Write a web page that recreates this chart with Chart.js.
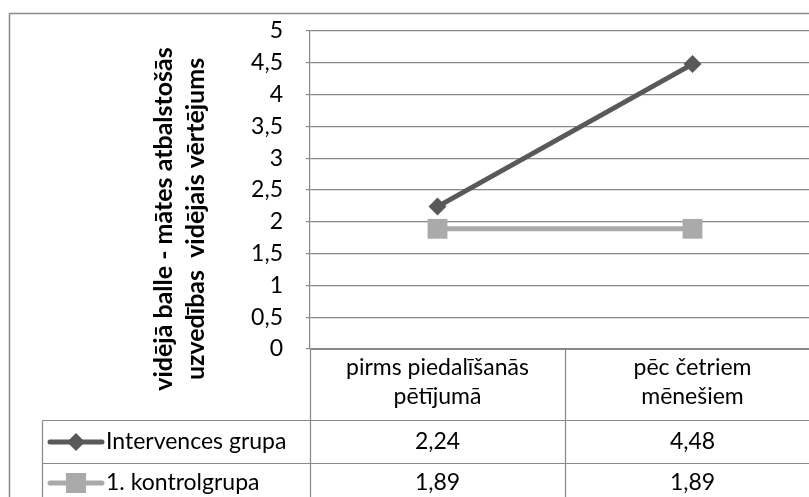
<!DOCTYPE html>
<html>
<head>
<meta charset="utf-8">
<script src="https://cdn.jsdelivr.net/npm/chart.js@4.4.1/dist/chart.umd.min.js"></script>
<style>
  html, body { margin: 0; padding: 0; overflow: hidden; background: #fff; }
  #wrap { position: relative; width: 840px; height: 497px; }
</style>
</head>
<body>
<div id="wrap"><canvas id="grafiks" width="840" height="497"></canvas></div>
<script>
const kategorijas = [["pirms piedalīšanās", "pētījumā"], ["pēc četriem", "mēnešiem"]];
const intervences = [2.24, 4.48];
const kontrole = [1.89, 1.89];
const serijas = ["Intervences grupa", "1. kontrolgrupa"];
const asuNosaukums = ["vidējā balle - mātes atbalstošās", "uzvedības  vidējais vērtējums"];

const fonts = "Lato, 'Open Sans', sans-serif";
const lineGray = "#898989";
const krasas = ["#595959", "#aaaaaa"];

const komats = (v) => String(v).replace(".", ",");

// marķieris leģendas atslēgai tabulā
function marker(ctx, type, x, y, color) {
  ctx.fillStyle = color;
  ctx.beginPath();
  if (type === "rectRot") {
    ctx.moveTo(x - 9, y);
    ctx.lineTo(x, y - 9);
    ctx.lineTo(x + 9, y);
    ctx.lineTo(x, y + 9);
  } else {
    ctx.rect(x - 10, y - 10, 20, 20);
  }
  ctx.closePath();
  ctx.fill();
}

const datuTabula = {
  id: "datuTabula",
  afterDraw(chart) {
    const ctx = chart.ctx;
    const area = chart.chartArea;
    const xs = chart.scales.x;
    const c0 = xs.getPixelForValue(0);
    const c1 = xs.getPixelForValue(1);
    const mid = Math.round((c0 + c1) / 2) + 0.5;
    const left = Math.round(area.left) + 0.5;
    const keyLeft = 42.5;
    const row0 = 420.5, row1 = 463.5;
    ctx.save();

    // ārējais rāmis
    ctx.strokeStyle = lineGray;
    ctx.lineWidth = 1.5;
    ctx.strokeRect(9.5, 13.5, 900, 600);

    // tabulas līnijas
    ctx.lineWidth = 1.2;
    ctx.beginPath();
    ctx.moveTo(left, Math.round(area.bottom) + 0.5);
    ctx.lineTo(chart.width, Math.round(area.bottom) + 0.5);
    ctx.moveTo(keyLeft, row0); ctx.lineTo(chart.width, row0);
    ctx.moveTo(keyLeft, row1); ctx.lineTo(chart.width, row1);
    ctx.moveTo(keyLeft, row0); ctx.lineTo(keyLeft, chart.height);
    ctx.moveTo(left, area.bottom); ctx.lineTo(left, chart.height);
    ctx.moveTo(mid, area.bottom); ctx.lineTo(mid, chart.height);
    ctx.stroke();

    ctx.fillStyle = "#000";
    ctx.font = "23px " + fonts;
    ctx.textAlign = "center";
    ctx.textBaseline = "middle";
    kategorijas.forEach((lbl, i) => {
      const x = xs.getPixelForValue(i);
      ctx.fillText(lbl[0], x, 368);
      ctx.fillText(lbl[1], x, 397);
    });

    const rindas = [intervences, kontrole];
    const formas = ["rectRot", "rect"];
    const ys = [442, 483];
    rindas.forEach((vals, r) => {
      const y = ys[r];
      ctx.strokeStyle = krasas[r];
      ctx.lineWidth = 5;
      ctx.lineCap = "round";
      ctx.beginPath();
      ctx.moveTo(50, y);
      ctx.lineTo(102, y);
      ctx.stroke();
      marker(ctx, formas[r], 76, y, krasas[r]);
      ctx.fillStyle = "#000";
      ctx.textAlign = "left";
      ctx.fillText(serijas[r], 106, y);
      ctx.textAlign = "center";
      vals.forEach((v, i) => ctx.fillText(komats(v), xs.getPixelForValue(i), y));
    });

    // vertikālās ass nosaukums
    ctx.font = "bold 25px " + fonts;
    ctx.translate(0, 219);
    ctx.rotate(-Math.PI / 2);
    ctx.fillText(asuNosaukums[0], 0, 164);
    ctx.fillText(asuNosaukums[1], 0, 196);
    ctx.restore();
  }
};

new Chart(document.getElementById("grafiks"), {
  type: "line",
  data: {
    labels: kategorijas,
    datasets: [
      {
        label: serijas[0],
        data: intervences,
        borderColor: krasas[0],
        backgroundColor: krasas[0],
        borderWidth: 5,
        pointStyle: "rectRot",
        pointRadius: 9,
        pointBorderWidth: 0
      },
      {
        label: serijas[1],
        data: kontrole,
        borderColor: krasas[1],
        backgroundColor: krasas[1],
        borderWidth: 5,
        pointStyle: "rect",
        pointRadius: 14,
        pointBorderWidth: 0
      }
    ]
  },
  options: {
    responsive: false,
    animation: false,
    layout: { padding: { top: 30, right: 20, bottom: 148, left: 0 } },
    plugins: { legend: { display: false }, tooltip: { enabled: false } },
    scales: {
      x: { display: false, offset: true },
      y: {
        min: 0,
        max: 5,
        ticks: {
          stepSize: 0.5,
          padding: 23,
          color: "#000",
          font: { family: fonts, size: 23, lineHeight: 0.7 },
          callback: (v) => komats(v)
        },
        grid: { color: lineGray, tickLength: 4, lineWidth: 1.2 },
        border: { color: lineGray, width: 1.2 },
        afterFit: (s) => { s.width = 310; }
      }
    }
  },
  plugins: [datuTabula]
});
</script>
</body>
</html>
